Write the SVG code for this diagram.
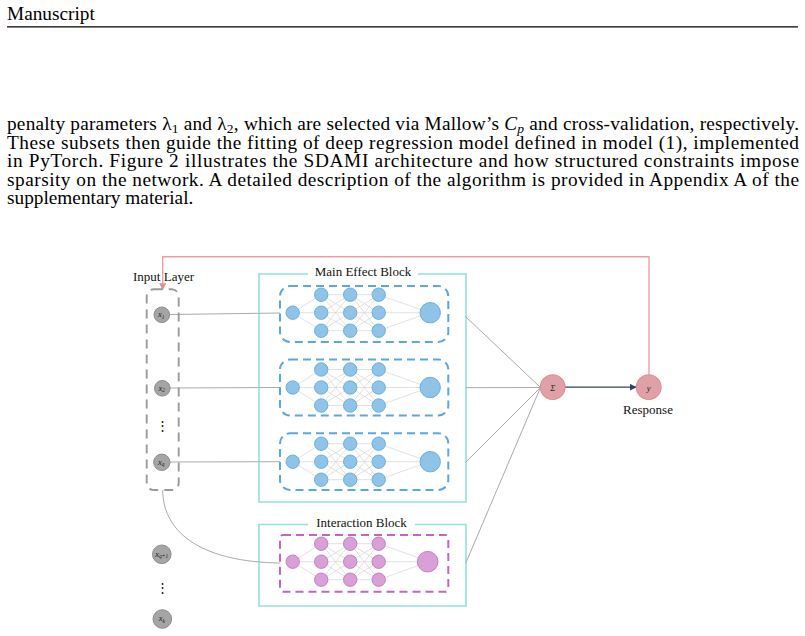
<svg xmlns="http://www.w3.org/2000/svg" width="805" height="636" viewBox="0 0 805 636">
<style>
.body{font-family:"Liberation Serif","Times New Roman",serif;font-size:19.3px;fill:#000}
.lbl{font-family:"Liberation Serif","Times New Roman",serif;font-size:13px;fill:#111}
.nl{font-family:"Liberation Serif","Times New Roman",serif;font-style:italic;font-size:8.5px;fill:#222;text-anchor:middle}
.in{fill:#a5a5a5;stroke:#8c8c8c;stroke-width:1}
.blk{fill:none;stroke:#93e2d8;stroke-width:1.6}
.bn circle{fill:#8fc4e8;stroke:#6aaedf;stroke-width:1}
.pn circle{fill:#d9a0d8;stroke:#c47fc3;stroke-width:1}
.bbox{fill:none;stroke:#5ba7de;stroke-width:2;stroke-dasharray:8 5}
.pbox{fill:none;stroke:#c564c2;stroke-width:2;stroke-dasharray:8 5}
.lk{fill:none;stroke:#d4d4d4;stroke-width:0.7}
.cn{fill:none;stroke:#aaaaaa;stroke-width:1}
.rn{fill:#dfa1a7;stroke:#e58c95;stroke-width:1.2}
</style>
<defs>
<path id="links" class="lk" d="M0 0L28.5 -18M0 0L28.5 0M0 0L28.5 18M28.5 -18L57.5 -18M28.5 -18L57.5 0M28.5 -18L57.5 18M28.5 0L57.5 -18M28.5 0L57.5 0M28.5 0L57.5 18M28.5 18L57.5 -18M28.5 18L57.5 0M28.5 18L57.5 18M57.5 -18L86 -18M57.5 -18L86 0M57.5 -18L86 18M57.5 0L86 -18M57.5 0L86 0M57.5 0L86 18M57.5 18L86 -18M57.5 18L86 0M57.5 18L86 18M86 -18L136.5 0M86 0L136.5 0M86 18L136.5 0"/>
<marker id="ap" viewBox="0 0 10 10" refX="9" refY="5" markerWidth="7" markerHeight="7" markerUnits="userSpaceOnUse" orient="auto"><path d="M0 0L10 5L0 10z" fill="#e58c95"/></marker>
<marker id="ad" viewBox="0 0 10 10" refX="9" refY="5" markerWidth="7" markerHeight="7" markerUnits="userSpaceOnUse" orient="auto"><path d="M0 0L10 5L0 10z" fill="#2f4460"/></marker>
</defs>
<rect width="805" height="636" fill="#fff"/>

<g id="page-text">
<text class="body" x="7" y="20" font-size="19.8">Manuscript</text>
<line x1="7" y1="26.8" x2="798" y2="26.8" stroke="#000" stroke-width="1.2"/>
<text class="body" x="7" y="130" textLength="792" lengthAdjust="spacing">penalty parameters λ<tspan font-size="13.5" dy="3">1</tspan><tspan dy="-3"> and λ</tspan><tspan font-size="13.5" dy="3">2</tspan><tspan dy="-3">, which are selected via Mallow’s </tspan><tspan font-style="italic">C</tspan><tspan font-size="13.5" font-style="italic" dy="3">p</tspan><tspan dy="-3"> and cross-validation, respectively.</tspan></text>
<text class="body" x="7" y="148.5" textLength="792" lengthAdjust="spacing">These subsets then guide the fitting of deep regression model defined in model (1), implemented</text>
<text class="body" x="7" y="167" textLength="792" lengthAdjust="spacing">in PyTorch.  Figure 2 illustrates the SDAMI architecture and how structured constraints impose</text>
<text class="body" x="7" y="185.5" textLength="792" lengthAdjust="spacing">sparsity on the network.  A detailed description of the algorithm is provided in Appendix A of the</text>
<text class="body" x="7" y="204">supplementary material.</text>
</g>

<g id="main-effect-block">
<path class="blk" d="M308 274H259V502H466V274H418"/>
<text class="lbl" x="363" y="276" text-anchor="middle">Main Effect Block</text>
</g>
<g id="interaction-block">
<path class="blk" d="M308 524.5H259V606H466V524.5H415"/>
<text class="lbl" x="361.5" y="527" text-anchor="middle">Interaction Block</text>
</g>

<g id="connectors">
<path class="cn" d="M170 314.5L280 313"/>
<path class="cn" d="M170 388L280 387.5"/>
<path class="cn" d="M170 462L280 461.7"/>
<path class="cn" d="M162.7 490C163 535 205 562 280 563"/>
<path class="cn" d="M465.7 316.7L540.5 387.5"/>
<path class="cn" d="M465.7 387.7L540.5 387.5"/>
<path class="cn" d="M465.7 462.3L540.5 387.5"/>
<path class="cn" d="M465.7 563.3L540.5 387.5"/>
<path d="M565 387.2H636" fill="none" stroke="#2f4460" stroke-width="1.2" marker-end="url(#ad)"/>
<path d="M649 374.7V256.7H162.7V289.5" fill="none" stroke="#e8a0a6" stroke-width="1.4" marker-end="url(#ap)"/>
</g>

<g id="input-layer">
<rect x="146.7" y="289.3" width="32" height="200.7" rx="7" fill="none" stroke="#9a9a9a" stroke-width="1.9" stroke-dasharray="9 6"/>
<text class="lbl" x="133" y="281">Input Layer</text>
</g>
<g id="x1"><circle class="in" cx="161.8" cy="314.8" r="7.8"/><text class="nl" x="161.3" y="317">x<tspan font-size="5.5" dy="1.5">1</tspan></text></g>
<g id="x2"><circle class="in" cx="162.3" cy="388.3" r="7.8"/><text class="nl" x="161.8" y="390.5">x<tspan font-size="5.5" dy="1.5">2</tspan></text></g>
<text class="lbl" x="162" y="430" text-anchor="middle" font-size="12">⋮</text>
<g id="xq"><circle class="in" cx="161.8" cy="462.3" r="8.2"/><text class="nl" x="161.3" y="464.5">x<tspan font-size="5.5" dy="1.5">q</tspan></text></g>
<g id="xq1"><circle class="in" cx="161.8" cy="554.3" r="9.3"/><text class="nl" x="161.8" y="556.5">x<tspan font-size="5.5" dy="1.5">q+1</tspan></text></g>
<text class="lbl" x="162" y="592" text-anchor="middle" font-size="12">⋮</text>
<g id="xk"><circle class="in" cx="162.3" cy="619" r="9.3"/><text class="nl" x="161.8" y="621.2">x<tspan font-size="5.5" dy="1.5">k</tspan></text></g>

<g id="net-main-1" class="bn" transform="translate(292.7 312.7)">
<rect class="bbox" x="-12.7" y="-26.7" width="168.3" height="56" rx="10"/>
<use href="#links"/>
<circle cx="0" cy="0" r="6.7"/>
<circle cx="28.5" cy="-18" r="6.7"/><circle cx="28.5" cy="0" r="6.7"/><circle cx="28.5" cy="18" r="6.7"/>
<circle cx="57.5" cy="-18" r="6.7"/><circle cx="57.5" cy="0" r="6.7"/><circle cx="57.5" cy="18" r="6.7"/>
<circle cx="86" cy="-18" r="6.7"/><circle cx="86" cy="0" r="6.7"/><circle cx="86" cy="18" r="6.7"/>
<circle cx="137.5" cy="0" r="10.2"/>
</g>
<g id="net-main-2" class="bn" transform="translate(292.7 387.5)">
<rect class="bbox" x="-12.7" y="-28" width="168.3" height="56" rx="10"/>
<use href="#links"/>
<circle cx="0" cy="0" r="6.7"/>
<circle cx="28.5" cy="-18" r="6.7"/><circle cx="28.5" cy="0" r="6.7"/><circle cx="28.5" cy="18" r="6.7"/>
<circle cx="57.5" cy="-18" r="6.7"/><circle cx="57.5" cy="0" r="6.7"/><circle cx="57.5" cy="18" r="6.7"/>
<circle cx="86" cy="-18" r="6.7"/><circle cx="86" cy="0" r="6.7"/><circle cx="86" cy="18" r="6.7"/>
<circle cx="137.5" cy="0" r="10.2"/>
</g>
<g id="net-main-3" class="bn" transform="translate(292.7 461.7)">
<rect class="bbox" x="-12.7" y="-28.4" width="168.3" height="56.7" rx="10"/>
<use href="#links"/>
<circle cx="0" cy="0" r="6.7"/>
<circle cx="28.5" cy="-18" r="6.7"/><circle cx="28.5" cy="0" r="6.7"/><circle cx="28.5" cy="18" r="6.7"/>
<circle cx="57.5" cy="-18" r="6.7"/><circle cx="57.5" cy="0" r="6.7"/><circle cx="57.5" cy="18" r="6.7"/>
<circle cx="86" cy="-18" r="6.7"/><circle cx="86" cy="0" r="6.7"/><circle cx="86" cy="18" r="6.7"/>
<circle cx="137.5" cy="0" r="10.2"/>
</g>
<g id="net-interaction" class="pn" transform="translate(292.7 561.7)">
<rect class="pbox" x="-12.7" y="-26.7" width="168.3" height="56.7" rx="3"/>
<use href="#links"/>
<circle cx="0" cy="0" r="6.7"/>
<circle cx="28.5" cy="-18" r="6.7"/><circle cx="28.5" cy="0" r="6.7"/><circle cx="28.5" cy="18" r="6.7"/>
<circle cx="57.5" cy="-18" r="6.7"/><circle cx="57.5" cy="0" r="6.7"/><circle cx="57.5" cy="18" r="6.7"/>
<circle cx="86" cy="-18" r="6.7"/><circle cx="86" cy="0" r="6.7"/><circle cx="86" cy="18" r="6.7"/>
<circle cx="135" cy="0" r="10.3"/>
</g>

<g id="sum-node"><circle class="rn" cx="552.7" cy="387.2" r="12.3"/><text class="nl" x="552.7" y="391" font-size="11">Σ</text></g>
<g id="response-node"><circle class="rn" cx="648.7" cy="387.2" r="12.3"/><text class="nl" x="648.7" y="390.8" font-size="12.5">y</text><text class="lbl" x="648" y="414" text-anchor="middle">Response</text></g>
</svg>
